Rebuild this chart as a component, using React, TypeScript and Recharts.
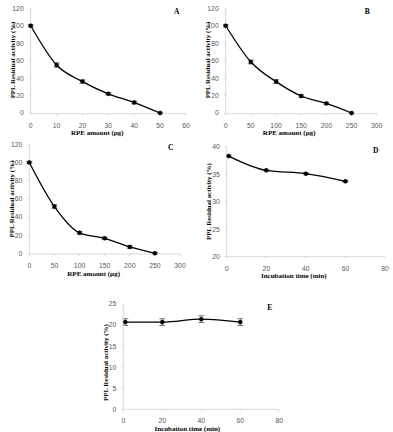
import React from 'react';
import { LineChart, Line, XAxis, YAxis, ErrorBar, Label } from 'recharts';

// 패널별 데이터
const doseA = [0, 10, 20, 30, 40, 50];
const activityA = [100, 55, 36, 22, 12, 0];
const errorA = [1.2, 2.5, 2, 1.5, 1.5, 0.8];

const doseBC = [0, 50, 100, 150, 200, 250];
const activityB = [100, 58.5, 36, 19.5, 11, 0];
const errorB = [1.2, 2.2, 2.2, 1.5, 1.2, 0.8];
const activityC = [100, 51.5, 22.5, 16.5, 7, 0];
const errorC = [1.2, 2, 1.5, 1.2, 1.5, 0.8];

const timeDE = [1, 20, 40, 60];
const activityD = [38.3, 35.7, 35.1, 33.7];
const errorD = [0.15, 0.12, 0.12, 0.12];
const activityE = [20.7, 20.7, 21.4, 20.7];
const errorE = [0.8, 0.8, 0.8, 0.8];

// 축 눈금
const xTicksA = [0, 10, 20, 30, 40, 50, 60];
const xTicksBC = [0, 50, 100, 150, 200, 250, 300];
const xTicksDE = [0, 20, 40, 60, 80];
const yTicksABC = [0, 20, 40, 60, 80, 100, 120];
const yTicksD = [20, 25, 30, 35, 40];
const yTicksE = [0, 5, 10, 15, 20, 25];

const Y_TITLE = 'PPL Residual activity (%)';
const X_TITLE_DOSE = 'RPE amount (µg)';
const X_TITLE_TIME = 'Incubation time (min)';

const AXIS_GRAY = '#d9d9d9';
const TICK_COLOR = '#595959';
const TICK_FONT = '"Liberation Sans", Arial, sans-serif';
const TITLE_FONT = '"Liberation Serif", "Times New Roman", serif';

const Y_W = 22;
const X_H = 20;

type Box = { left: number; top: number; width: number; height: number };
type Plot = { x0: number; x1: number; y0: number; y1: number };

interface PanelProps {
  letter: string;
  xs: number[];
  ys: number[];
  errs: number[];
  box: Box;
  plot: Plot;
  xTicks: number[];
  yTicks: number[];
  xTitle: string;
  xTitleShift: number;
  yTitleShift: number;
}

function Panel({ letter, xs, ys, errs, box, plot, xTicks, yTicks, xTitle, xTitleShift, yTitleShift }: PanelProps) {
  const data = xs.map((x, i) => ({ x, y: ys[i], err: errs[i] }));
  const margin = {
    left: plot.x0 - box.left - Y_W,
    right: box.left + box.width - plot.x1,
    top: plot.y0 - box.top,
    bottom: box.top + box.height - plot.y1 - X_H,
  };
  const tickStyle = { fontSize: 6.8, fill: TICK_COLOR, fontFamily: TICK_FONT };

  return (
    <div style={{ position: 'absolute', left: box.left, top: box.top, width: box.width, height: box.height }}>
      <LineChart width={box.width} height={box.height} data={data} margin={margin}>
        <XAxis
          dataKey="x"
          type="number"
          domain={[xTicks[0], xTicks[xTicks.length - 1]]}
          ticks={xTicks}
          height={X_H}
          stroke={AXIS_GRAY}
          tickSize={2}
          tickMargin={7}
          tick={tickStyle}
          interval={0}
        >
          <Label
            content={({ viewBox }: any) => (
              <text
                x={viewBox.x + viewBox.width / 2 + xTitleShift}
                y={viewBox.y + 19.5}
                textAnchor="middle"
                dominantBaseline="central"
                fontFamily={TITLE_FONT}
                fontWeight="bold"
                fontSize={7}
                fill="#000"
              >
                {xTitle}
              </text>
            )}
          />
        </XAxis>
        <YAxis
          type="number"
          domain={[yTicks[0], yTicks[yTicks.length - 1]]}
          ticks={yTicks}
          width={Y_W}
          stroke={AXIS_GRAY}
          tickSize={2}
          tickMargin={5}
          tick={tickStyle}
          interval={0}
        >
          <Label
            content={({ viewBox }: any) => {
              const cx = viewBox.x + viewBox.width - 18;
              const cy = viewBox.y + viewBox.height / 2 + yTitleShift;
              return (
                <text
                  x={cx}
                  y={cy}
                  transform={`rotate(-90 ${cx} ${cy})`}
                  textAnchor="middle"
                  dominantBaseline="central"
                  fontFamily={TITLE_FONT}
                  fontWeight="bold"
                  fontSize={6.9}
                  fill="#000"
                >
                  {Y_TITLE}
                </text>
              );
            }}
          />
        </YAxis>
        <Line
          type="monotone"
          dataKey="y"
          stroke="#000"
          strokeWidth={1.3}
          dot={{ r: 2, fill: '#000', stroke: '#000', strokeWidth: 0.5 }}
          isAnimationActive={false}
        >
          <ErrorBar dataKey="err" width={3} stroke="#444" strokeWidth={0.7} direction="y" />
        </Line>
      </LineChart>
      <span
        style={{
          position: 'absolute',
          left: plot.x1 - box.left - 12,
          top: plot.y0 - box.top,
          fontFamily: TITLE_FONT,
          fontWeight: 'bold',
          fontSize: 7.5,
          lineHeight: '8px',
          color: '#000',
        }}
      >
        {letter}
      </span>
    </div>
  );
}

export default function App() {
  return (
    <div style={{ position: 'relative', width: 393, height: 432, background: '#fff', overflow: 'hidden' }}>
      <style>{`body { margin: 0; }`}</style>
      <Panel
        letter="A"
        xs={doseA}
        ys={activityA}
        errs={errorA}
        box={{ left: 0, top: 0, width: 197, height: 137 }}
        plot={{ x0: 30.7, x1: 186, y0: 8.3, y1: 113.7 }}
        xTicks={xTicksA}
        yTicks={yTicksABC}
        xTitle={X_TITLE_DOSE}
        xTitleShift={-11}
        yTitleShift={-1}
      />
      <Panel
        letter="B"
        xs={doseBC}
        ys={activityB}
        errs={errorB}
        box={{ left: 195, top: 0, width: 198, height: 137 }}
        plot={{ x0: 225.7, x1: 376.7, y0: 8.3, y1: 113.7 }}
        xTicks={xTicksBC}
        yTicks={yTicksABC}
        xTitle={X_TITLE_DOSE}
        xTitleShift={-12}
        yTitleShift={-1}
      />
      <Panel
        letter="C"
        xs={doseBC}
        ys={activityC}
        errs={errorC}
        box={{ left: 0, top: 137, width: 195, height: 142 }}
        plot={{ x0: 29.3, x1: 180, y0: 144.3, y1: 254 }}
        xTicks={xTicksBC}
        yTicks={yTicksABC}
        xTitle={X_TITLE_DOSE}
        xTitleShift={-11}
        yTitleShift={0}
      />
      <Panel
        letter="D"
        xs={timeDE}
        ys={activityD}
        errs={errorD}
        box={{ left: 195, top: 137, width: 198, height: 142 }}
        plot={{ x0: 226.7, x1: 385, y0: 146.7, y1: 256.7 }}
        xTicks={xTicksDE}
        yTicks={yTicksD}
        xTitle={X_TITLE_TIME}
        xTitleShift={-12}
        yTitleShift={0}
      />
      <Panel
        letter="E"
        xs={timeDE}
        ys={activityE}
        errs={errorE}
        box={{ left: 90, top: 285, width: 220, height: 147 }}
        plot={{ x0: 123.3, x1: 279.3, y0: 304, y1: 409.3 }}
        xTicks={xTicksDE}
        yTicks={yTicksE}
        xTitle={X_TITLE_TIME}
        xTitleShift={-14}
        yTitleShift={6}
      />
    </div>
  );
}
